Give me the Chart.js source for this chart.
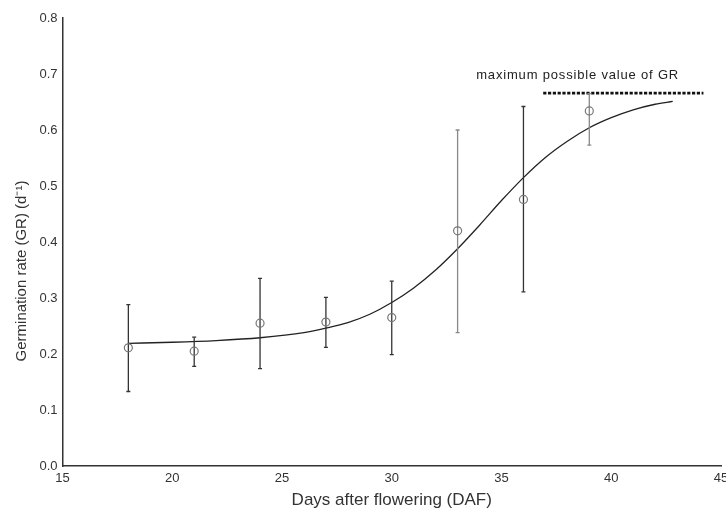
<!DOCTYPE html>
<html>
<head>
<meta charset="utf-8">
<script src="https://cdn.jsdelivr.net/npm/chart.js@4/dist/chart.umd.min.js"></script>
<style>
html,body{margin:0;padding:0;background:#fff;}
#wrap{width:726px;height:515px;position:relative;}
</style>
</head>
<body>
<div id="wrap"><canvas id="c" width="726" height="515"></canvas></div>
<script>
// Observed data
const days = [18, 21, 24, 27, 30, 33, 36, 39];
const gr = [0.211, 0.205, 0.255, 0.257, 0.265, 0.420, 0.476, 0.634];
const errLow = [0.133, 0.178, 0.174, 0.212, 0.199, 0.238, 0.311, 0.573];
const errHigh = [0.288, 0.230, 0.335, 0.301, 0.330, 0.600, 0.642, 0.665];
const errShade = ['dark','dark','dark','dark','dark','light','dark','light'];
// Fitted curve
const fitX = [18, 20, 22, 24, 26, 27, 28, 29, 30, 31, 32, 33, 34, 35, 36, 37, 38, 39, 40, 41, 42, 42.8];
const fitY = [0.219, 0.221, 0.224, 0.229, 0.238, 0.246, 0.256, 0.271, 0.292, 0.318, 0.350, 0.388, 0.430, 0.474, 0.515, 0.551, 0.580, 0.604, 0.622, 0.636, 0.646, 0.651];
// Maximum possible GR line
const maxX = [36.9, 44.2];
const maxY = [0.666, 0.666];
const maxLabel = 'maximum possible value of GR';
const maxLabelPos = [38.45, 0.697];
// Axis
const xTicks = [15, 20, 25, 30, 35, 40, 45];
const yTicks = [0.0, 0.1, 0.2, 0.3, 0.4, 0.5, 0.6, 0.7, 0.8];
const xTitle = 'Days after flowering (DAF)';
const yTitle = 'Germination rate (GR) (d\u207B\u00B9)';

function errData(shade) {
  const out = [];
  days.forEach((d, i) => {
    if (errShade[i] !== shade) return;
    out.push({x: d, y: errLow[i]}, {x: d, y: errHigh[i]}, {x: d, y: null});
  });
  return out;
}

const FONT = '"Liberation Sans", Arial, sans-serif';

const labelPlugin = {
  id: 'labels',
  afterDraw(chart) {
    const ctx = chart.ctx;
    const xs = chart.scales.x, ys = chart.scales.y;
    ctx.save();
    ctx.fillStyle = '#222';
    ctx.font = '13px ' + FONT;
    const w0 = ctx.measureText(maxLabel).width;
    const target = 202;
    const ls = Math.max(0, (target - w0) / (maxLabel.length - 1));
    ctx.letterSpacing = ls.toFixed(2) + 'px';
    ctx.textAlign = 'center';
    ctx.textBaseline = 'middle';
    ctx.fillText(maxLabel, xs.getPixelForValue(maxLabelPos[0]) + ls / 2, ys.getPixelForValue(maxLabelPos[1]));
    ctx.letterSpacing = '0px';
    // y title
    ctx.font = '15px ' + FONT;
    ctx.fillStyle = '#333';
    ctx.translate(22, 271);
    ctx.rotate(-Math.PI / 2);
    ctx.fillText(yTitle, 0, 0);
    ctx.restore();
  }
};

new Chart(document.getElementById('c'), {
  type: 'line',
  data: {
    datasets: [
      {
        label: 'GR',
        data: days.map((d, i) => ({x: d, y: gr[i]})),
        showLine: false,
        pointStyle: 'circle',
        pointRadius: 4,
        pointBorderColor: '#777',
        pointBackgroundColor: 'rgba(255,255,255,0)',
        pointBorderWidth: 1.2,
        order: 0
      },
      {
        label: 'err dark',
        data: errData('dark'),
        borderColor: '#333',
        borderWidth: 1.3,
        spanGaps: false,
        pointStyle: 'line',
        pointRadius: 2,
        pointBorderColor: '#333',
        pointBorderWidth: 1.3,
        order: 1
      },
      {
        label: 'err light',
        data: errData('light'),
        borderColor: '#888',
        borderWidth: 1.3,
        spanGaps: false,
        pointStyle: 'line',
        pointRadius: 2,
        pointBorderColor: '#888',
        pointBorderWidth: 1.3,
        order: 1
      },
      {
        label: 'fit',
        data: fitX.map((x, i) => ({x: x, y: fitY[i]})),
        borderColor: '#222',
        borderWidth: 1.3,
        pointRadius: 0,
        cubicInterpolationMode: 'monotone',
        order: 2
      },
      {
        label: 'max',
        data: maxX.map((x, i) => ({x: x, y: maxY[i]})),
        borderColor: '#111',
        borderWidth: 2.8,
        borderDash: [3.2, 1.6],
        pointRadius: 0,
        order: 3
      }
    ]
  },
  options: {
    responsive: false,
    animation: false,
    layout: {autoPadding: false, padding: {top: 18, right: 5, left: 0, bottom: 0}},
    plugins: {legend: {display: false}, tooltip: {enabled: false}},
    scales: {
      x: {
        type: 'linear',
        min: 15, max: 45,
        afterBuildTicks(s) { s.ticks = xTicks.map(v => ({value: v})); },
        afterFit(s) { s.height = 49; s.paddingRight = 0; s.paddingLeft = 0; },
        grid: {display: false, drawTicks: true, tickLength: 3, tickColor: '#333'},
        border: {display: true, color: '#333', width: 1.5},
        ticks: {color: '#333', font: {family: FONT, size: 13}, padding: 2, maxRotation: 0},
        title: {display: true, text: xTitle, color: '#333', font: {family: FONT, size: 17}, padding: {top: 0}}
      },
      y: {
        type: 'linear',
        min: 0, max: 0.8,
        afterBuildTicks(s) { s.ticks = yTicks.map(v => ({value: v})); },
        afterFit(s) { s.width = 62.5; s.paddingTop = 0; s.paddingBottom = 0; },
        grid: {display: false, drawTicks: true, tickLength: 4, tickColor: '#333'},
        border: {display: true, color: '#333', width: 1.5},
        ticks: {color: '#333', font: {family: FONT, size: 13}, padding: 1, callback: v => v.toFixed(1)}
      }
    }
  },
  plugins: [labelPlugin]
});
</script>
</body>
</html>
